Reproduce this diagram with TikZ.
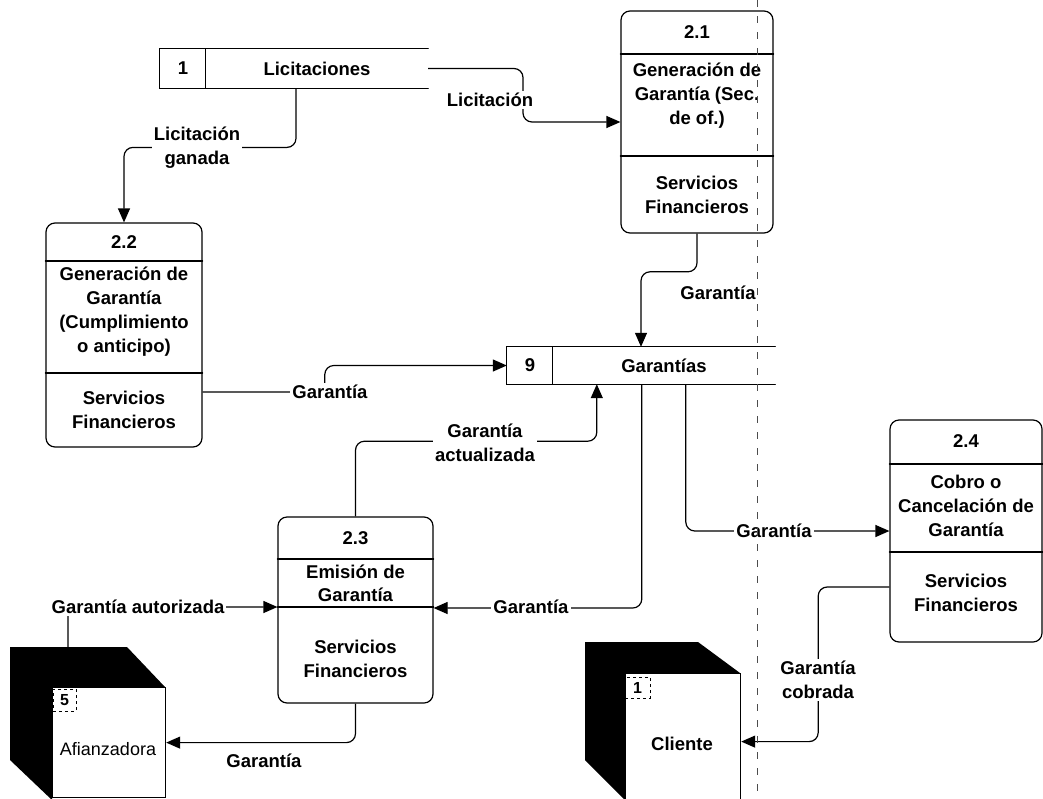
\documentclass[tikz,border=0pt]{standalone}
\usepackage{fontspec}
\setmainfont{Liberation Sans}
\usetikzlibrary{arrows.meta,calc}
\begin{document}
\begin{tikzpicture}[x=1pt,y=-1pt,
  every node/.style={font=\bfseries\fontsize{18.5}{24}\selectfont, inner sep=0pt, align=center},
  ln/.style={line width=1.2pt, line cap=round},
  procbox/.style={draw, line width=1.2pt, rounded corners=9pt},
  storebox/.style={minimum width=268pt},
  flow/.style={line width=1.2pt, rounded corners=9pt, -{Triangle[length=14pt,width=12pt]}},
  lbl/.style={fill=white, inner sep=2pt},
  numbox/.style={draw, dashed, line width=0.9pt, font=\bfseries\fontsize{16}{18}\selectfont},
  frontface/.style={draw, fill=white, line width=1.2pt, anchor=north west},
  sep/.style={gray!60!black, line width=0.9pt, dash pattern=on 7pt off 9pt}
]
\useasboundingbox (0,0) rectangle (1043,798);
\clip (0,0) rectangle (1043,798);

% ---------- processes ----------
\node[procbox, minimum width=152pt, minimum height=222pt] (p21) at (697,122) {};
\draw[ln] (p21.west |- 0,54) -- (p21.east |- 0,54);
\draw[ln] (p21.west |- 0,156) -- (p21.east |- 0,156);
\node (p21n) at (697,32.5) {2.1};
\node (p21t) at (697,96) {Generación de\\Garantía (Sec.\\de of.)};
\node (p21o) at (697,195) {Servicios\\Financieros};

\node[procbox, minimum width=156pt, minimum height=224pt] (p22) at (124,335) {};
\draw[ln] (p22.west |- 0,261) -- (p22.east |- 0,261);
\draw[ln] (p22.west |- 0,373) -- (p22.east |- 0,373);
\node (p22n) at (124,242) {2.2};
\node (p22t) at (124,312) {Generación de\\Garantía\\(Cumplimiento\\o anticipo)};
\node (p22o) at (124,410) {Servicios\\Financieros};

\node[procbox, minimum width=155pt, minimum height=186pt] (p23) at (355.5,610) {};
\draw[ln] (p23.west |- 0,559) -- (p23.east |- 0,559);
\draw[ln] (p23.west |- 0,607) -- (p23.east |- 0,607);
\node (p23n) at (355.5,538) {2.3};
\node[font=\bfseries\fontsize{18.5}{23}\selectfont] (p23t) at (355.5,583) {Emisión de\\Garantía};
\node (p23o) at (355.5,659) {Servicios\\Financieros};

\node[procbox, minimum width=152pt, minimum height=222pt] (p24) at (966,531) {};
\draw[ln] (p24.west |- 0,464) -- (p24.east |- 0,464);
\draw[ln] (p24.west |- 0,552) -- (p24.east |- 0,552);
\node (p24n) at (966,441) {2.4};
\node (p24t) at (966,506) {Cobro o\\Cancelación de\\Garantía};
\node (p24o) at (966,593) {Servicios\\Financieros};

% ---------- data stores ----------
\node[storebox, minimum height=39pt] (lic) at (294,68.5) {};
\draw[ln] (lic.north east) -- (lic.north west) -- (lic.south west) -- (lic.south east);
\draw[ln] ($(lic.north west)+(46,0)$) -- ($(lic.south west)+(46,0)$);
\node (licn) at (183,68.5) {1};
\node (lict) at (317,68.5) {Licitaciones};

\node[storebox, minimum height=37pt] (gar) at (641,365.5) {};
\draw[ln] (gar.north east) -- (gar.north west) -- (gar.south west) -- (gar.south east);
\draw[ln] ($(gar.north west)+(46,0)$) -- ($(gar.south west)+(46,0)$);
\node (garn) at (530,365.5) {9};
\node (gart) at (664,365.5) {Garantías};

% ---------- external entities ----------
\fill (10,647) -- (127,647) -- (165,687) -- (52,687) -- (52,800) -- (10,760) -- cycle;
\node[frontface, minimum width=113pt, minimum height=110pt] (afi) at (52,687) {};
\node[numbox, minimum width=23pt, minimum height=22pt] (afin) at (64.5,700) {5};
\node[font=\fontsize{18}{22}\selectfont] (afit) at (108,749) {Afianzadora};
\coordinate (afitop) at (68,647);

\fill (585,642) -- (698,642) -- (740,673) -- (625,673) -- (625,800) -- (585,760) -- cycle;
\node[frontface, minimum width=115pt, minimum height=136pt] (cli) at (625,673) {};
\node[numbox, minimum width=25pt, minimum height=21pt] (clin) at (637.5,687.5) {1};
\node (clit) at (682,744) {Cliente};

% ---------- flows ----------
\draw[flow] (lic.east) -- (523,68.5) |- (p21.west);
\draw[flow] ([xshift=2pt]lic.south) |- ($(p22.north)+(0,-75)$) -- (p22.north);
\draw[flow] (p21.south) |- ($(gar.north)+(0,-75)$) -- (gar.north);
\draw[flow] ($(p22.east)+(0,57)$) -| ($(gar.west)+(-182,0)$) -- (gar.west);
\draw[flow] (p23.north) |- ($(gar.south west)+(90,57)$) -- ($(gar.south west)+(90,0)$);
\draw[flow] ($(gar.south west)+(135,0)$) |- ($(p23.east)+(0,-2)$);
\draw[flow] ($(gar.south west)+(179,0)$) |- (p24.west);
\draw[flow] ($(p24.west)+(0,56)$) -| ($(cli.east)+(77,0)$) -- (cli.east);
\draw[flow] (afitop) |- ($(p23.west)+(0,-3)$);
\draw[flow] (p23.south) |- (afi.east);

% ---------- flow labels ----------
\node[lbl] (l1) at (490,100) {Licitación};
\node[lbl] (l2) at (197,148) {Licitación\\ganada};
\node[lbl] (l3) at (718,293) {Garantía};
\node[lbl] (l4) at (330,392) {Garantía};
\node[lbl] (l5) at (485,443) {Garantía\\actualizada};
\node[lbl] (l6) at (531,607) {Garantía};
\node[lbl] (l7) at (774,531) {Garantía};
\node[lbl] (l8) at (818,680) {Garantía\\cobrada};
\node[lbl] (l9) at (138,607) {Garantía autorizada};
\node[lbl] (l10) at (264,761) {Garantía};

% ---------- boundary ----------
\draw[sep] (757,0) -- (757,798);
\end{tikzpicture}
\end{document}
